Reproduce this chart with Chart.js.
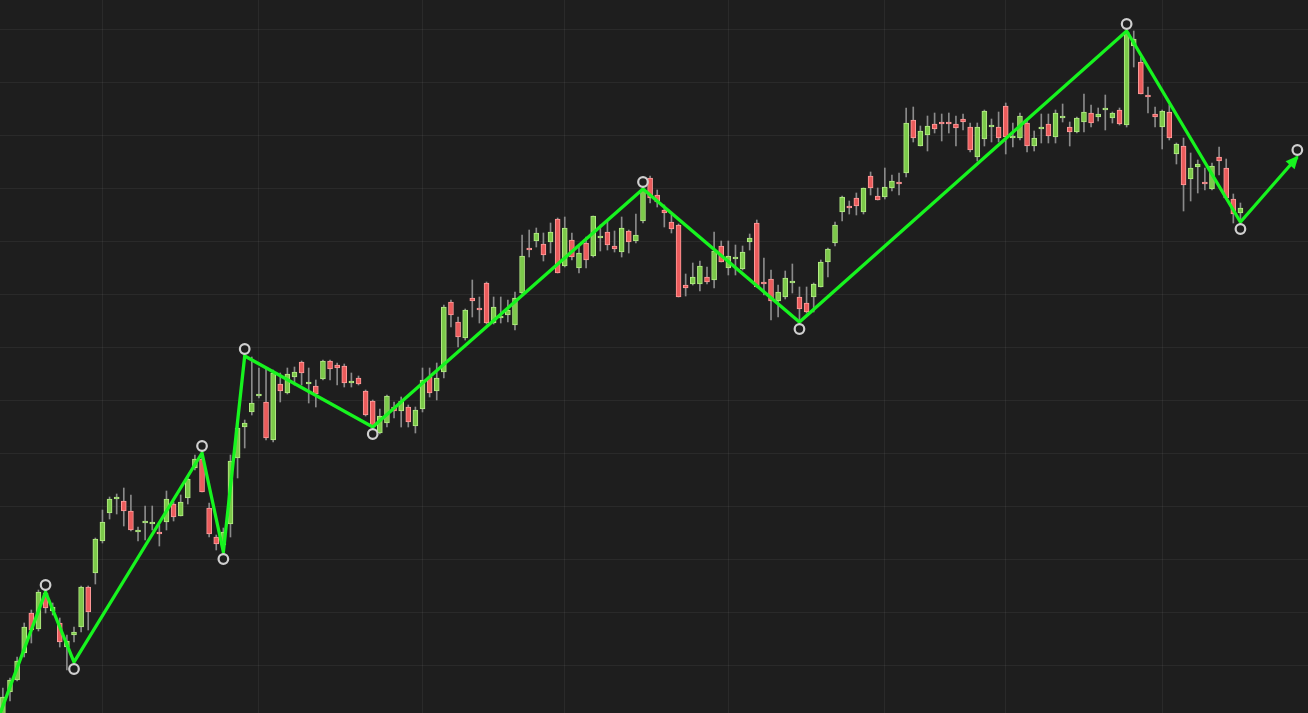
<!DOCTYPE html>
<html>
<head>
<meta charset="utf-8">
<title>ZigZag</title>
<script src="https://cdn.jsdelivr.net/npm/chart.js@4.4.1/dist/chart.umd.min.js"></script>
<style>
html, body { margin: 0; padding: 0; background: #1e1e1e; overflow: hidden; }
#wrap { width: 1308px; height: 713px; position: relative; }
</style>
</head>
<body>
<div id="wrap"><canvas id="chart"></canvas></div>
<script>
// daily candles, oldest first
var opens = [-5,21,33,60,100,84,120,102,90,66,78,86,126,140,172,200,214,212,202,181,
	190,189,181,191,209,197,215,245,254,205,176,168,189,255,286,301,317,311,273,329,
	320,336,351,329,327,334,352,348,347,330,335,322,312,280,290,306,302,306,287,304,
	336,322,341,411,391,375,415,405,430,390,395,398,388,420,464,472,469,471,494,447,
	473,445,470,457,475,481,467,461,482,472,492,535,518,503,491,488,428,429,429,436,
	433,467,445,454,444,471,490,431,434,412,416,430,416,410,416,426,451,470,501,507,
	515,501,537,517,516,525,531,540,593,567,578,589,591,590,589,594,586,556,574,586,
	586,607,575,575,590,567,584,589,576,595,586,581,591,600,596,603,595,603,588,667,
	651,617,599,586,601,559,567,534,546,531,524,556,545,514,500];
var highs = [25,35,56,90,103,123,124,110,95,78,86,127,127,175,203,216,219,225,218,186,
	207,207,188,222,211,218,236,258,260,210,178,185,258,293,293,356,345,345,343,340,
	345,346,352,345,333,353,353,350,349,340,337,323,313,304,318,311,316,308,306,345,
	345,350,408,413,396,404,433,416,431,416,416,413,421,478,483,485,480,490,495,496,
	480,468,476,497,488,493,482,496,483,499,525,537,523,508,498,489,439,450,452,446,
	481,472,472,468,467,479,493,455,443,428,442,449,426,426,430,453,465,491,517,512,
	520,525,541,525,545,538,540,605,606,587,597,600,599,600,597,599,590,590,603,594,
	601,610,590,600,592,582,599,599,603,609,591,596,619,608,605,618,601,605,683,682,
	656,626,606,603,608,570,575,560,553,545,550,566,554,519,510];
var lows = [-9,12,32,56,70,82,100,98,66,43,71,81,83,129,170,194,199,187,182,172,
	173,183,167,183,192,197,209,243,221,176,163,161,176,235,265,298,315,273,271,311,
	319,328,328,310,306,333,333,328,326,326,328,297,286,279,286,295,286,286,280,301,
	316,313,335,386,366,373,396,390,389,389,390,391,383,418,456,466,452,460,440,446,
	453,440,445,456,462,463,461,456,460,470,490,510,506,486,480,416,417,428,422,429,
	425,451,438,438,443,463,426,418,393,396,414,420,391,400,401,426,436,467,492,499,
	498,499,518,513,514,522,518,536,571,567,562,580,572,580,567,583,561,552,567,571,
	571,559,566,573,561,562,570,570,570,591,567,580,581,586,592,583,590,588,586,646,
	619,600,586,564,573,549,502,512,520,523,523,538,515,490,490];
var closes = [16,33,52,86,83,121,105,106,71,72,81,126,101,174,191,214,216,202,183,183,
	191,191,179,214,196,211,234,254,221,179,169,181,252,285,290,310,319,275,340,322,
	339,341,340,331,319,352,344,345,330,332,329,298,286,297,317,302,312,291,303,333,
	320,335,406,398,376,403,412,403,390,406,396,403,415,457,463,480,458,481,440,485,
	456,460,453,497,476,468,464,485,471,478,523,515,511,500,484,416,425,436,447,431,
	462,451,457,455,461,475,426,429,412,421,435,432,404,401,429,451,464,488,516,505,
	507,525,525,513,526,532,529,590,575,582,587,584,589,589,585,591,563,586,602,588,
	575,576,576,597,567,575,586,577,600,596,581,595,601,590,599,604,600,589,681,674,
	619,616,596,602,575,569,528,545,549,529,547,552,515,499,505];

// zigzag swing points (candle index, price); last one is the projected leg
var pivotIdx = [-1, 6, 10, 28, 31, 34, 52, 90, 112, 158, 174, 182];
var pivotVal = [-12, 121, 51, 260, 161, 357, 286, 524, 391, 682, 491, 556];

// month boundaries (candle index) and price grid levels
var monthStarts = [14, 36, 59, 79, 102, 124, 141, 163];
var priceLevels = [47.7, 100.7, 153.7, 206.7, 259.7, 312.7, 365.7, 418.7, 471.7, 524.7, 577.7, 630.7, 683.7];

var upFill = '#7cc94a', upLine = '#b4ec86';
var downFill = '#eb5c5c', downLine = '#ff9c9c';
var zzColor = '#17f41f';

var wickData = [], bodyData = [], bodyFill = [], bodyBorder = [];
for (var i = 0; i < opens.length; i++) {
	wickData.push({x: i, y: [lows[i], highs[i]]});
	bodyData.push({x: i, y: [opens[i], closes[i]]});
	var up = closes[i] >= opens[i];
	bodyFill.push(up ? upFill : downFill);
	bodyBorder.push(up ? upLine : downLine);
}
var zzData = [];
for (var k = 0; k < pivotIdx.length; k++) {
	zzData.push({x: pivotIdx[k], y: pivotVal[k]});
}

// circles above highs / below lows, arrow on the last leg
var zigzagMarks = {
	id: 'zigzagMarks',
	afterDatasetsDraw: function(chart) {
		var ctx = chart.ctx, xs = chart.scales.x, ys = chart.scales.y;
		var n = pivotIdx.length;
		ctx.save();
		var x1 = xs.getPixelForValue(pivotIdx[n-2]), y1 = ys.getPixelForValue(pivotVal[n-2]);
		var x2 = xs.getPixelForValue(pivotIdx[n-1]), y2 = ys.getPixelForValue(pivotVal[n-1]);
		var a = Math.atan2(y2 - y1, x2 - x1);
		var len = 11, half = 6;
		ctx.fillStyle = zzColor;
		ctx.beginPath();
		ctx.moveTo(x2 + 2*Math.cos(a), y2 + 2*Math.sin(a));
		ctx.lineTo(x2 - len*Math.cos(a) + half*Math.sin(a), y2 - len*Math.sin(a) - half*Math.cos(a));
		ctx.lineTo(x2 - len*Math.cos(a) - half*Math.sin(a), y2 - len*Math.sin(a) + half*Math.cos(a));
		ctx.closePath();
		ctx.fill();
		for (var i = 0; i < n; i++) {
			if (pivotIdx[i] < 0) continue;
			var isHigh = pivotVal[i] > pivotVal[i-1];
			var px = xs.getPixelForValue(pivotIdx[i]);
			var py = ys.getPixelForValue(pivotVal[i]) + (isHigh ? -7 : 7);
			ctx.beginPath();
			ctx.arc(px, py, 4.8, 0, Math.PI*2);
			ctx.fillStyle = '#1e1e1e';
			ctx.fill();
			ctx.lineWidth = 2.2;
			ctx.strokeStyle = '#cfcfcf';
			ctx.stroke();
		}
		ctx.restore();
	}
};

var ctx = document.getElementById('chart').getContext('2d');
var chart = new Chart(ctx, {
	type: 'bar',
	data: {
		datasets: [{
			type: 'line',
			label: 'ZigZag',
			data: zzData,
			borderColor: zzColor,
			borderWidth: 3.3,
			pointRadius: 0,
			tension: 0,
			order: 0
		}, {
			label: 'Body',
			data: bodyData,
			backgroundColor: bodyFill,
			borderColor: bodyBorder,
			borderWidth: 1,
			borderSkipped: false,
			barThickness: 5,
			minBarLength: 2,
			grouped: false,
			order: 1
		}, {
			label: 'Wick',
			data: wickData,
			backgroundColor: '#8a8a8a',
			borderWidth: 0,
			barThickness: 1,
			grouped: false,
			order: 2
		}]
	},
	options: {
		responsive: true,
		maintainAspectRatio: false,
		animation: false,
		layout: { padding: 0 },
		plugins: {
			legend: { display: false },
			tooltip: { enabled: false }
		},
		scales: {
			x: {
				type: 'linear',
				offset: false,
				min: -0.405,
				max: 183.5,
				afterBuildTicks: function(axis) {
					axis.ticks = monthStarts.map(function(v){ return {value: v}; });
				},
				ticks: { display: false },
				border: { display: false },
				grid: { color: 'rgba(255,255,255,0.055)', drawTicks: false, offset: false }
			},
			y: {
				min: 0,
				max: 713,
				afterBuildTicks: function(axis) {
					axis.ticks = priceLevels.map(function(v){ return {value: v}; });
				},
				ticks: { display: false },
				border: { display: false },
				grid: { color: 'rgba(255,255,255,0.055)', drawTicks: false }
			}
		}
	},
	plugins: [zigzagMarks]
});
</script>
</body>
</html>
